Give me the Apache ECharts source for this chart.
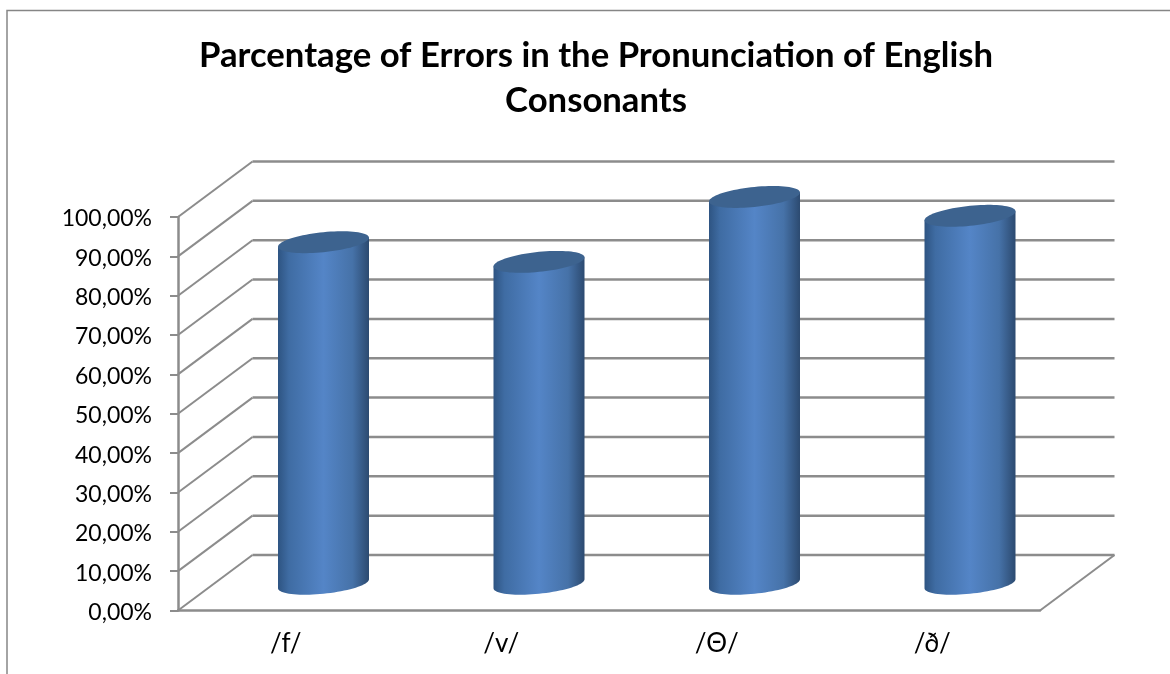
<!DOCTYPE html>
<html>
<head>
<meta charset="utf-8">
<title>Parcentage of Errors</title>
<style>
  html, body { margin: 0; padding: 0; background: #fff; }
  #main { width: 1170px; height: 674px; }
</style>
<script src="https://cdn.jsdelivr.net/npm/echarts@6/dist/echarts.min.js"></script>
</head>
<body>
<div id="main"></div>
<script>
var categories = ['/f/', '/v/', '/Θ/', '/ð/']
var errorRates = [86.8, 81.8, 98.3, 93.5]
var wallTicks = [0, 10, 20, 30, 40, 50, 60, 70, 80, 90, 100]

// 3d look: depth of the floor in pixels, columns stand half way in
var depthX = 74.5
var depthY = -55.5
var lineColor = '#8c8c8c'

var barGradient = {
  type: 'linear', x: 0, y: 0, x2: 1, y2: 0,
  colorStops: [
    { offset: 0, color: '#2e5482' },
    { offset: 0.12, color: '#3f6ca3' },
    { offset: 0.5, color: '#5485c7' },
    { offset: 0.82, color: '#4672a8' },
    { offset: 1, color: '#2c4a70' }
  ]
}

// point on the slanted ellipse, t=0 right end, t=PI left end
function ellipsePoint(cx, cy, t) {
  return [cx + 45.5 * Math.cos(t), cy - 4.5 * Math.cos(t) + 10 * Math.sin(t)]
}

function renderWall(params, api) {
  var rect = params.coordSys
  var y = api.coord([0, api.value(0)])[1]
  var left = rect.x
  var right = rect.x + rect.width
  var children = [
    {
      type: 'line',
      shape: { x1: left, y1: y, x2: left + depthX, y2: y + depthY },
      style: { stroke: lineColor, lineWidth: 2 }
    },
    {
      type: 'line',
      shape: { x1: left + depthX, y1: y + depthY, x2: right + depthX, y2: y + depthY },
      style: { stroke: lineColor, lineWidth: 2.5 }
    }
  ]
  // only the floor has a right edge
  if (api.value(0) === 0) {
    children.push({
      type: 'line',
      shape: { x1: right, y1: y, x2: right + depthX, y2: y + depthY },
      style: { stroke: lineColor, lineWidth: 2 }
    })
  }
  return { type: 'group', children: children }
}

function renderColumn(params, api) {
  var top = api.coord([api.value(0), api.value(1)])
  var base = api.coord([api.value(0), 0])
  var cx = top[0] + depthX / 2 + 0.5
  var topY = top[1] + depthY / 2 + 1
  var baseY = base[1] + depthY / 2 + 1
  var body = [ellipsePoint(cx, topY, Math.PI), ellipsePoint(cx, topY, 0)]
  var lid = []
  var i
  for (i = 0; i <= 40; i++) {
    body.push(ellipsePoint(cx, baseY, Math.PI * i / 40))
  }
  for (i = 0; i < 80; i++) {
    lid.push(ellipsePoint(cx, topY, Math.PI * i / 40))
  }
  return {
    type: 'group',
    children: [
      { type: 'polygon', shape: { points: body }, style: { fill: barGradient } },
      { type: 'polygon', shape: { points: lid }, style: { fill: '#3d638f' } }
    ]
  }
}

var chart = echarts.init(document.getElementById('main'))
chart.setOption({
  animation: false,
  backgroundColor: '#fff',
  textStyle: { fontFamily: 'Lato' },
  title: {
    text: 'Parcentage of Errors in the Pronunciation of English\nConsonants',
    left: 591,
    top: 28,
    textAlign: 'center',
    textStyle: { fontSize: 34.7, fontWeight: 'bold', color: '#000', fontFamily: 'Lato', lineHeight: 45 }
  },
  grid: { left: 178, right: 130, top: 217, height: 393.5 },
  xAxis: {
    type: 'category',
    data: categories,
    axisLine: { lineStyle: { color: lineColor, width: 2.5 } },
    axisTick: { length: 8, lineStyle: { color: lineColor, width: 2 } },
    axisLabel: { color: '#000', fontSize: 26, margin: 20 }
  },
  yAxis: {
    type: 'value',
    min: 0,
    max: 100,
    interval: 10,
    splitLine: { show: false },
    axisLine: { show: true, lineStyle: { color: lineColor, width: 2.5 } },
    axisTick: { show: true, length: 8, lineStyle: { color: lineColor, width: 2 } },
    axisLabel: {
      color: '#000',
      fontSize: 23,
      margin: 26,
      formatter: function (v) { return '{t|' + v.toFixed(2).replace('.', ',') + '%}' },
      // label sits a bit under the tick in the reference
      rich: { t: { fontSize: 23, color: '#000', fontFamily: 'Lato', padding: [4, 0, 0, 0] } }
    }
  },
  graphic: [{
    type: 'rect',
    silent: true,
    shape: { x: 7, y: 10.5, width: 1300, height: 800 },
    style: { fill: 'none', stroke: '#868686', lineWidth: 1.5 }
  }],
  series: [
    {
      type: 'custom',
      name: 'walls',
      z: 1,
      silent: true,
      clip: false,
      data: wallTicks.map(function (v) { return [v] }),
      encode: { y: 0 },
      renderItem: renderWall
    },
    {
      type: 'custom',
      name: 'errors',
      z: 3,
      clip: false,
      data: errorRates.map(function (v, i) { return [i, v] }),
      encode: { x: 0, y: 1 },
      renderItem: renderColumn
    }
  ]
})
</script>
</body>
</html>
